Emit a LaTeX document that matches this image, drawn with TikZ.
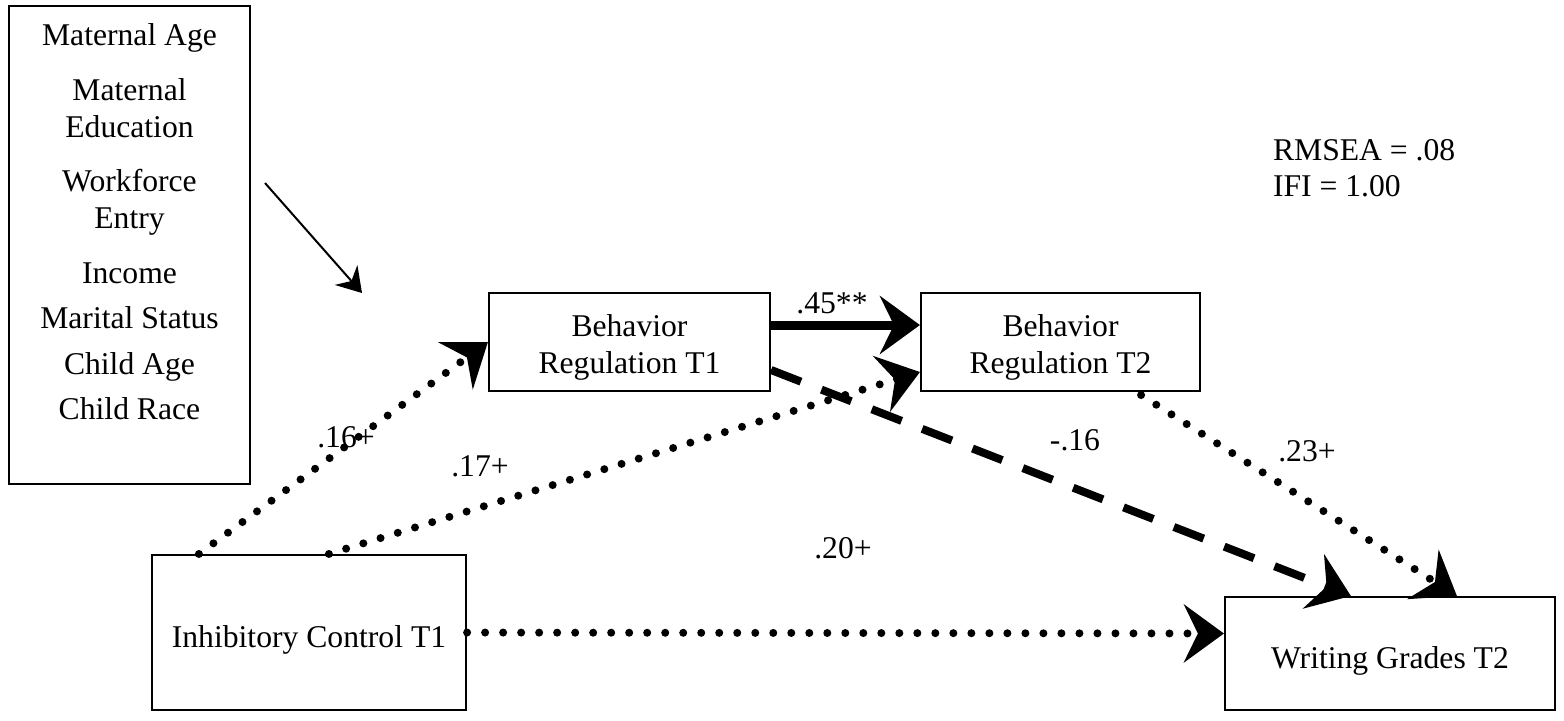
\documentclass[tikz,border=0pt]{standalone}
\usepackage{fontspec}
\setmainfont{Liberation Serif}
\usetikzlibrary{arrows.meta, calc}

\begin{document}
\begin{tikzpicture}[x=0.01cm, y=-0.01cm, font=\fontsize{9}{10.5}\selectfont, line width=0.02cm]
	\tikzstyle{var}=[draw, align=center, inner sep=0pt]
	\tikzstyle{lowtext}=[text height=10.6pt, text depth=1.95pt]
	\tikzstyle{coef}=[inner sep=0pt]
	\tikzstyle{bighead}=[-{Stealth[length=0.4cm, width=0.58cm, inset=0.14cm]}]
	\tikzstyle{dotpath}=[bighead, line width=0.08cm, dash pattern=on 0pt off 0.18cm, line cap=round]
	\tikzstyle{dashpath}=[bighead, line width=0.08cm, dash pattern=on 0.32cm off 0.22cm]
	\tikzstyle{thickpath}=[bighead, line width=0.09cm]

	\useasboundingbox (0,0) rectangle (1564,720);

	% covariates
	\node[var, minimum width=2.41cm, minimum height=4.78cm] (covars) at (129.5,245) {};
	\node[anchor=north, align=center, inner sep=0pt] (covlist) at (129.5,23)
		{Maternal Age\\[5pt] Maternal\\ Education\\[5pt] Workforce\\ Entry\\[5pt] Income\\[2.3pt] Marital Status\\[2.6pt] Child Age\\[2.3pt] Child Race};
	\coordinate (covout) at (265,183);
	\coordinate (covin) at (362,293);
	\draw[-{Stealth[length=0.24cm, width=0.3cm, inset=0.08cm]}] (covout) -- (covin);

	% model
	\node[var, minimum width=2.81cm, minimum height=0.98cm] (brone) at (629.5,342) {\rule{0pt}{9.5pt}Behavior\\Regulation T1};
	\node[var, minimum width=2.79cm, minimum height=0.98cm] (brtwo) at (1060.5,342) {\rule{0pt}{9.5pt}Behavior\\Regulation T2};
	\node[var, lowtext, minimum width=3.14cm, minimum height=1.55cm] (icone) at (309,632.5) {Inhibitory Control T1};
	\node[var, lowtext, minimum width=3.30cm, minimum height=1.13cm] (wgtwo) at (1390,653.5) {Writing Grades T2};

	\draw[thickpath] ($(brone.east)+(0,-17)$) -- ($(brtwo.west)+(0,-17)$);
	\draw[dotpath] ($(icone.north west)+(48,0)$) -- (brone.west);
	\draw[dotpath] ($(icone.north west)+(178,0)$) -- ($(brtwo.west)+(0,30)$);
	\draw[dashpath] ($(brone.east)+(0,28)$) -- ($(wgtwo.north west)+(127,0)$);
	\draw[dotpath] ($(brtwo.south east)+(-60,3)$) -- ($(wgtwo.north west)+(233,0)$);
	\draw[dotpath] (icone.east) -- ($(wgtwo.west)+(0,-20)$);

	% coefficients
	\node[coef] (cbr) at (832,303) {.45**};
	\node[coef] (cicbrone) at (346,437) {.16+};
	\node[coef] (cicbrtwo) at (480,466) {.17+};
	\node[coef] (cbrwg) at (1075,440) {-.16};
	\node[coef] (cbrtwowg) at (1307,451) {.23+};
	\node[coef] (cicwg) at (843,548) {.20+};

	% fit
	\node[anchor=north west, align=left, inner sep=0pt] (fit) at (1272,138) {RMSEA = .08\\IFI = 1.00};
\end{tikzpicture}
\end{document}
